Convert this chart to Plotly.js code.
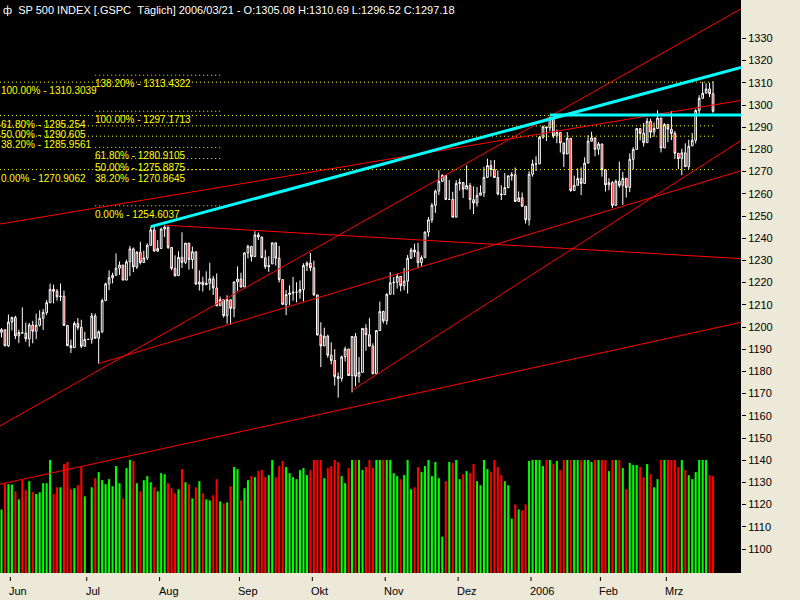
<!DOCTYPE html>
<html><head><meta charset="utf-8">
<script src="https://cdn.plot.ly/plotly-3.0.1.min.js"></script>
<style>html,body{margin:0;padding:0;background:#ece9d8;overflow:hidden}</style>
</head><body><div id="chart" style="width:800px;height:600px"></div>
<script>
// Daily bars 2005-05-27 .. 2006-03-21 (index 25 = holiday bar 2005-07-04)
const open = [1197.62,1198.78,1191.50,1202.27,1204.29,1196.02,1197.51,1197.26,1194.67,1200.93,
1198.11,1200.82,1203.91,1206.55,1210.93,1216.96,1216.10,1213.61,1213.88,1200.73,
1191.57,1190.69,1201.57,1199.85,1191.33,1194.44,1194.44,1204.99,1194.94,1197.87,
1211.86,1219.44,1222.21,1223.29,1226.50,1227.92,1221.13,1229.35,1235.20,1227.04,
1233.68,1229.03,1231.16,1236.79,1243.72,1234.18,1235.35,1244.12,1245.04,1235.86,
1226.42,1223.13,1231.38,1229.13,1237.81,1230.40,1233.87,1219.34,1220.24,1219.02,
1219.71,1221.73,1217.57,1209.59,1212.40,1205.10,1212.28,1208.41,1220.33,1221.59,
1218.02,1233.39,1236.36,1231.67,1241.48,1240.57,1231.20,1227.16,1228.42,1237.91,
1231.02,1221.34,1210.20,1214.62,1215.29,1215.63,1215.66,1216.89,1227.68,1228.81,
1226.70,1214.47,1196.39,1191.49,1195.90,1187.33,1184.87,1177.68,1176.84,1186.57,
1190.10,1178.14,1195.76,1177.80,1179.59,1199.38,1196.54,1191.38,1178.90,1198.41,
1207.01,1202.76,1214.76,1219.94,1220.14,1222.81,1218.59,1220.65,1230.96,1234.72,
1233.76,1229.01,1231.21,1242.80,1248.27,1254.85,1261.23,1265.61,1268.25,1257.46,
1257.48,1249.48,1264.67,1265.08,1262.09,1263.70,1257.37,1255.84,1259.37,1260.43,
1267.43,1272.74,1270.94,1267.32,1259.92,1259.62,1262.79,1268.12,1268.66,1256.54,
1258.17,1254.42,1248.29,1268.80,1273.46,1273.48,1285.45,1290.15,1289.72,1294.18,
1286.06,1287.61,1282.93,1277.93,1285.04,1261.49,1263.82,1266.86,1264.68,1273.83,
1283.72,1285.20,1280.08,1282.46,1270.84,1264.03,1265.02,1254.78,1265.65,1263.82,
1266.99,1262.86,1275.53,1280.00,1289.38,1287.24,1283.03,1292.67,1287.79,1289.43,
1294.12,1280.66,1291.24,1289.14,1287.23,1278.26,1275.88,1278.47,1272.23,1281.58,
1284.13,1297.48,1303.02,1305.33,1307.25,1305.08];
const high = [1199.56,1198.78,1205.64,1204.67,1205.09,1198.78,1208.85,1201.97,1201.86,1202.79,
1206.03,1207.53,1208.08,1212.10,1219.55,1219.10,1217.13,1219.59,1216.45,1200.90,
1194.33,1202.54,1204.07,1203.27,1197.89,1194.44,1206.34,1206.11,1198.46,1212.73,
1220.03,1225.54,1224.46,1233.16,1229.53,1227.92,1230.34,1236.56,1235.83,1234.19,
1238.36,1234.42,1237.64,1245.15,1245.04,1239.10,1244.69,1245.86,1245.04,1235.86,
1232.28,1234.11,1242.69,1237.81,1237.81,1236.24,1233.87,1225.49,1222.64,1225.08,
1228.96,1223.04,1224.15,1213.73,1212.40,1214.28,1212.28,1220.36,1227.29,1224.45,
1233.61,1237.06,1236.36,1243.13,1242.60,1240.57,1234.74,1231.88,1237.95,1237.91,
1236.49,1221.52,1216.64,1218.83,1222.56,1220.17,1220.98,1228.70,1229.57,1233.34,
1229.88,1214.47,1202.14,1199.71,1196.52,1193.10,1190.02,1179.56,1187.13,1191.21,
1190.10,1195.76,1197.30,1186.46,1199.39,1201.30,1204.01,1192.65,1198.41,1211.43,
1207.34,1215.17,1224.70,1222.52,1224.18,1222.81,1226.59,1232.41,1235.70,1237.54,
1237.94,1232.24,1242.96,1249.58,1255.89,1261.90,1270.64,1268.78,1268.44,1266.18,
1260.93,1266.17,1266.85,1265.08,1272.89,1264.85,1263.36,1263.08,1263.86,1272.11,
1275.80,1275.17,1275.24,1270.51,1263.86,1269.37,1268.19,1269.76,1271.83,1261.10,
1260.61,1254.42,1270.22,1275.37,1276.91,1286.09,1290.78,1290.15,1294.90,1294.18,
1288.96,1287.61,1282.93,1287.79,1285.04,1268.19,1271.47,1271.87,1276.44,1286.38,
1287.94,1285.20,1283.33,1282.46,1270.87,1267.04,1265.78,1266.47,1274.56,1269.89,
1266.99,1278.21,1281.00,1289.39,1289.47,1291.92,1294.17,1293.84,1292.11,1297.57,
1294.12,1291.80,1291.24,1297.33,1288.23,1278.26,1280.33,1282.74,1284.37,1287.37,
1298.14,1304.40,1310.45,1309.79,1310.00,1310.69];
const low = [1195.28,1191.50,1191.03,1198.42,1194.55,1192.75,1197.26,1193.33,1191.09,1192.64,
1194.51,1200.18,1198.66,1205.47,1210.93,1210.65,1211.86,1211.69,1200.72,1191.45,
1188.30,1190.69,1198.70,1190.51,1191.33,1194.44,1192.49,1194.78,1183.55,1197.20,
1211.86,1216.60,1219.64,1223.29,1223.50,1221.13,1221.13,1222.91,1224.70,1226.15,
1228.15,1229.03,1230.15,1236.79,1234.18,1233.80,1235.35,1240.57,1235.15,1225.62,
1222.67,1223.13,1226.58,1228.33,1225.87,1226.20,1219.05,1216.43,1215.93,1219.02,
1216.47,1214.44,1209.37,1209.57,1204.23,1201.53,1201.07,1204.40,1216.18,1217.75,
1218.02,1230.93,1229.51,1231.67,1239.15,1231.20,1226.16,1224.85,1228.42,1227.65,
1220.07,1209.89,1205.35,1209.80,1211.84,1211.11,1212.72,1211.54,1225.22,1225.15,
1214.02,1196.25,1181.92,1191.46,1186.12,1183.16,1173.65,1168.20,1175.44,1184.48,
1178.13,1170.55,1173.30,1174.92,1179.59,1189.29,1191.38,1178.89,1178.90,1198.41,
1201.66,1201.07,1214.76,1214.45,1217.29,1216.08,1216.53,1215.05,1230.72,1231.48,
1226.41,1227.18,1231.21,1240.71,1246.90,1251.40,1259.51,1265.54,1257.17,1257.46,
1249.39,1249.48,1261.42,1258.12,1262.09,1253.02,1250.91,1254.24,1259.37,1258.56,
1267.07,1267.74,1267.32,1259.28,1257.21,1259.62,1262.50,1265.92,1256.54,1256.54,
1254.18,1246.59,1245.74,1267.74,1270.30,1273.48,1284.82,1283.76,1288.12,1285.04,
1282.78,1278.61,1272.08,1277.93,1260.92,1261.49,1263.82,1259.42,1264.68,1273.83,
1283.51,1276.85,1277.57,1267.72,1261.02,1261.62,1253.61,1254.78,1262.80,1254.98,
1258.34,1260.80,1271.06,1280.00,1284.07,1281.33,1283.03,1285.14,1285.62,1289.43,
1278.66,1280.66,1283.21,1284.20,1275.67,1271.11,1268.42,1272.23,1271.11,1281.58,
1282.67,1294.97,1303.02,1305.32,1303.59,1296.52];
const close = [1198.78,1191.50,1202.22,1204.29,1196.02,1197.51,1197.26,1194.67,1200.93,1198.11,
1200.82,1203.91,1206.58,1210.96,1216.96,1216.10,1213.61,1213.88,1200.73,1191.57,
1190.69,1201.57,1199.85,1191.33,1194.44,1194.44,1204.99,1194.94,1197.87,1211.86,
1219.44,1222.21,1223.29,1226.50,1227.92,1221.13,1229.35,1235.20,1227.04,1233.68,
1229.03,1231.16,1236.79,1243.72,1234.18,1235.35,1244.12,1245.04,1235.86,1226.42,
1223.13,1231.38,1229.13,1237.81,1230.39,1233.87,1219.34,1220.24,1219.02,1219.71,
1221.73,1217.59,1209.59,1212.37,1205.10,1212.28,1208.41,1220.33,1221.59,1218.02,
1233.39,1236.36,1231.67,1241.48,1240.56,1231.20,1227.16,1227.73,1237.91,1231.02,
1221.34,1210.20,1214.62,1215.29,1215.63,1215.66,1216.89,1227.68,1228.81,1226.70,
1214.47,1196.39,1191.49,1195.90,1187.33,1184.87,1177.68,1176.84,1186.57,1190.10,
1178.14,1195.76,1177.80,1179.59,1199.38,1196.54,1191.38,1178.90,1198.41,1207.01,
1202.76,1214.76,1219.94,1220.14,1222.81,1218.59,1220.65,1230.96,1234.72,1233.76,
1229.01,1231.21,1242.80,1248.27,1254.85,1261.23,1265.61,1268.25,1257.46,1257.48,
1249.48,1264.67,1265.08,1262.09,1263.70,1257.37,1255.84,1259.37,1260.43,1267.43,
1272.74,1270.94,1267.32,1259.92,1259.62,1262.79,1268.12,1268.66,1256.54,1258.17,
1254.42,1248.29,1268.80,1273.46,1273.48,1285.45,1290.15,1289.69,1294.18,1286.06,
1287.61,1282.93,1277.93,1285.04,1261.49,1263.82,1266.86,1264.68,1273.83,1283.72,
1285.19,1280.08,1282.46,1270.84,1264.03,1265.02,1254.78,1265.65,1263.78,1266.99,
1262.86,1275.53,1280.00,1289.38,1287.24,1283.03,1292.67,1287.79,1289.43,1294.12,
1280.66,1291.24,1289.14,1287.23,1278.26,1275.88,1278.47,1272.23,1281.42,1284.13,
1297.48,1303.02,1305.33,1307.25,1305.08,1297.18];
const volume = [1260,1774,1760,1754,1620,1460,1840,1640,1820,1606,
1566,1600,1780,1780,2240,1566,1700,1700,2160,2200,
1660,1680,1740,2100,1520,0,1700,1880,2000,1840,
1760,1860,1720,2120,1780,1480,2080,2240,2220,1780,
1620,1840,1920,1800,1700,1620,1980,1960,1780,1680,
1580,1660,2060,1800,1760,1480,1700,1820,1580,1460,
1440,1540,1860,1420,1380,1400,1720,2100,2060,1440,
1680,1840,1920,1900,2020,2040,1900,1940,2240,1900,
2120,2220,2100,1980,1900,1860,2040,2080,1940,2040,
2240,2240,2240,1880,2080,2120,2240,2200,1920,1780,
2080,2240,2240,2240,2040,2100,2240,2080,2240,2240,
2240,2240,2240,1980,1920,1860,1940,2240,1660,1700,
2100,2000,2120,2240,1920,2200,1880,720,1820,2200,
2180,2240,1860,1960,2020,1980,2160,1820,1740,2240,
2060,2000,2240,2100,1940,1820,1740,1080,1360,1260,
1240,1360,2220,2240,2240,2240,2120,2240,2240,2160,
2220,2040,2240,2240,2240,2240,2240,2240,2240,2240,
2200,2240,2240,2240,2240,2020,2240,2240,2240,2080,
1660,2180,2140,2140,2100,1900,2160,1960,1700,1860,
2240,2240,2240,2240,2240,2100,2240,2040,1940,1860,
2000,2240,2240,2240,1940,1920];

const monthTickIdx = [2,24,45,68,89,110,131,152,172,191];
const monthLabels = ['Jun','Jul','Aug','Sep','Okt','Nov','Dez','2006','Feb','Mrz'];
const priceTicks = [1100,1110,1120,1130,1140,1150,1160,1170,1180,1190,1200,1210,1220,1230,1240,1250,1260,1270,1280,1290,1300,1310,1320,1330];

// Fibonacci retracement sets
const fibLeftPct = ['100.00%','61.80%','50.00%','38.20%','0.00%'];
const fibLeftVal = [1310.3039,1295.254,1290.605,1285.9561,1270.9062];
const fibLeftSpan = [-0.43,205];
const fibRightPct = ['138.20%','100.00%','61.80%','50.00%','38.20%','0.00%'];
const fibRightVal = [1313.4322,1297.1713,1280.9105,1275.8875,1270.8645,1254.6037];
const fibRightSpan = [27,63];

// Trend lines (bar index, price)
const redX0 = [-0.43,28,47,101,-0.43,-0.43];
const redY0 = [1155.5,1183.55,1245.86,1171.5,1129.2,1246.4];
const redX1 = [213.05,213.05,213.05,213.05,213.05,213.05];
const redY1 = [1343.3,1270.4,1230.8,1284.0,1202.1,1302.1];
const cyanX0 = [43,158];
const cyanY0 = [1245.2,1295.5];
const cyanX1 = [213.05,213.05];
const cyanY1 = [1316.9,1295.5];

const titleText = 'SP 500 INDEX [.GSPC\u00a0\u00a0Täglich] 2006/03/21 - O:1305.08 H:1310.69 L:1296.52 C:1297.18';

const idx = open.map((_, i) => i);
const volColors = idx.map(i => close[i] >= open[i] ? '#00ff00' : '#ff0000');

function segs(x0, y0, x1, y1) {
  const xs = [], ys = [];
  for (let i = 0; i < x0.length; i++) { xs.push(x0[i], x1[i], null); ys.push(y0[i], y1[i], null); }
  return {xs, ys};
}
const fibL = segs(fibLeftVal.map(() => fibLeftSpan[0]), fibLeftVal, fibLeftVal.map(() => fibLeftSpan[1]), fibLeftVal);
const fibR = segs(fibRightVal.map(() => fibRightSpan[0]), fibRightVal, fibRightVal.map(() => fibRightSpan[1]), fibRightVal);
const red = segs(redX0, redY0, redX1, redY1);
const cyan = segs(cyanX0, cyanY0, cyanX1, cyanY1);

const FONT = 'Liberation Sans, Arial, sans-serif';
const traces = [
  {type:'bar', x:idx, y:volume, width:0.6, marker:{color:volColors, line:{width:0}}, yaxis:'y', hoverinfo:'skip'},
  {type:'candlestick', x:idx, open:open, high:high, low:low, close:close, yaxis:'y2',
   increasing:{line:{color:'#ffffff', width:1}, fillcolor:'#000000'},
   decreasing:{line:{color:'#ffffff', width:1}, fillcolor:'#ff0000'},
   whiskerwidth:0, hoverinfo:'skip'},
  {type:'scatter', mode:'lines', x:fibL.xs.concat(fibR.xs), y:fibL.ys.concat(fibR.ys), yaxis:'y2',
   line:{color:'#ffff00', width:1, dash:'1px,3px'}, hoverinfo:'skip', connectgaps:false},
  {type:'scatter', mode:'lines', x:red.xs, y:red.ys, yaxis:'y2', line:{color:'#ff0000', width:1}, hoverinfo:'skip'},
  {type:'scatter', mode:'lines', x:cyan.xs, y:cyan.ys, yaxis:'y2', line:{color:'#00ffff', width:3}, hoverinfo:'skip'}
];

const annotations = [];
annotations.push({xref:'paper', yref:'paper', x:0, y:1, xanchor:'left', yanchor:'top', xshift:1, yshift:-2,
  text:'ф\u00a0\u00a0' + titleText, showarrow:false, font:{family:FONT, size:11, color:'#ffffff'}});
fibLeftVal.forEach((v, i) => annotations.push({xref:'x', yref:'y2', x:fibLeftSpan[0], y:v, xanchor:'left', yanchor:'top',
  xshift:0, yshift:-2, borderpad:0, text:fibLeftPct[i] + ' - ' + v, showarrow:false, font:{family:FONT, size:10, color:'#ffff00'}}));
fibRightVal.forEach((v, i) => annotations.push({xref:'x', yref:'y2', x:fibRightSpan[0], y:v, xanchor:'left', yanchor:'top',
  xshift:-1, yshift:-2, borderpad:0, text:fibRightPct[i] + ' - ' + v, showarrow:false, font:{family:FONT, size:10, color:'#ffff00'}}));
monthTickIdx.forEach((m, i) => annotations.push({xref:'x', yref:'paper', x:m + 0.55, y:0, xanchor:'left', yanchor:'top',
  xshift:-3, yshift:-10, text:monthLabels[i], showarrow:false, font:{family:FONT, size:11, color:'#000000'}}));

const shapes = monthTickIdx.map(m => ({type:'line', xref:'x', yref:'paper', x0:m + 0.55, x1:m + 0.55,
  y0:-4/573, y1:-8/573, line:{color:'#000000', width:1}}));

const layout = {
  width:800, height:600,
  margin:{l:0, r:59, t:0, b:27, pad:0},
  paper_bgcolor:'#ece9d8', plot_bgcolor:'#000000',
  showlegend:false,
  xaxis:{range:[-0.43, 213.05], showgrid:false, zeroline:false, showticklabels:false, ticks:'',
    rangeslider:{visible:false}, fixedrange:true},
  yaxis:{range:[0, 11358], visible:false, fixedrange:true},
  yaxis2:{overlaying:'y', side:'right', anchor:'x', range:[1089.2, 1347.3], tickvals:priceTicks,
    ticks:'outside', ticklen:4, tickcolor:'#000000', tickwidth:1, showgrid:false, zeroline:false,
    tickfont:{family:FONT, size:11, color:'#000000'}, fixedrange:true},
  annotations:annotations, shapes:shapes,
  boxgap:0.3
};
Plotly.newPlot('chart', traces, layout, {displayModeBar:false, staticPlot:true});
</script></body></html>
